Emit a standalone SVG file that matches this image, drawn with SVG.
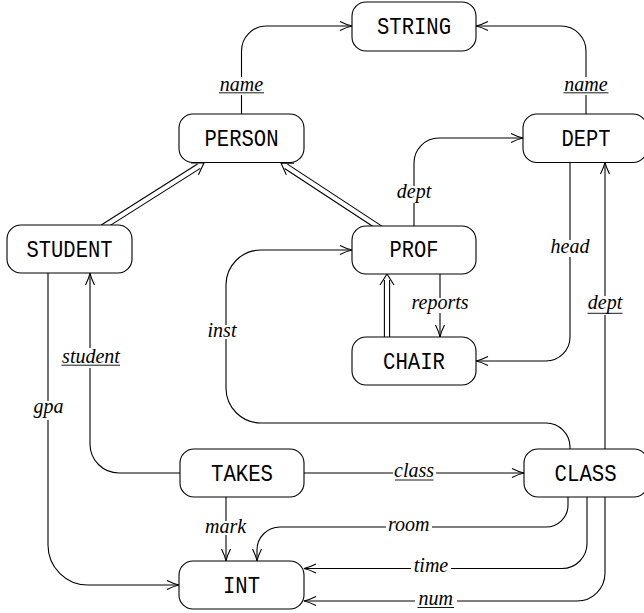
<svg xmlns="http://www.w3.org/2000/svg" width="644" height="613" viewBox="0 0 644 613">
<style>
.node rect{fill:#fff;stroke:#000;stroke-width:1.1}
.node text{font-family:"Liberation Mono",monospace;font-size:24px;text-anchor:middle;fill:#000}
.c path,.c line{fill:none;stroke:#000;stroke-width:1.1}
.lb rect{fill:#fff;stroke:none}
.lb text{font-family:"Liberation Serif",serif;font-style:italic;font-size:20px;text-anchor:middle;fill:#000}
.lb line{stroke:#000;stroke-width:0.9}
</style>
<defs>
<marker id="a" markerUnits="userSpaceOnUse" markerWidth="16" markerHeight="12" viewBox="-13 -6 16 12" refX="0" refY="0" orient="auto" overflow="visible">
<path d="M-12,-4.5 C-7,-2 -3,-0.6 0,0 C-3,0.6 -7,2 -12,4.5" fill="none" stroke="#000" stroke-width="1.1"/>
</marker>
</defs>
<g id="connectors" class="c">
<path d="M241.5,114 V51 A25,25 0 0 1 266.5,26 H352" marker-end="url(#a)"/>
<path d="M586,114 V51 A25,25 0 0 0 561,26 H476" marker-end="url(#a)"/>
<path d="M414,226 V163 A25,25 0 0 1 439,138 H523" marker-end="url(#a)"/>
<path d="M570,162 V337 A24,24 0 0 1 546,361 H476" marker-end="url(#a)"/>
<path d="M605,449 V162" marker-end="url(#a)"/>
<path d="M440,274 V337" marker-end="url(#a)"/>
<path d="M570,449 V447 A24,24 0 0 0 546,423 H261 A35,35 0 0 1 226,388 V285 A35,35 0 0 1 261,250 H352" marker-end="url(#a)"/>
<path d="M180,473 H119 A29,29 0 0 1 90,444 V273" marker-end="url(#a)"/>
<path d="M304,473 H524" marker-end="url(#a)"/>
<path d="M48,273 V545 A40,40 0 0 0 88,585 H179" marker-end="url(#a)"/>
<path d="M226,497 V561" marker-end="url(#a)"/>
<path d="M568,497 V505 A22,22 0 0 1 546,527 H280 A23,23 0 0 0 257,550 V561" marker-end="url(#a)"/>
<path d="M587,497 V543 A25,25 0 0 1 562,568.5 H304" marker-end="url(#a)"/>
<path d="M605,497 V573 A28,28 0 0 1 577,601 H304" marker-end="url(#a)"/>
<!-- ISA double arrows -->
<line x1="384.4" y1="340" x2="384.4" y2="280"/>
<line x1="389.6" y1="340" x2="389.6" y2="280"/>
<path d="M380,285 L387,274 L394,285"/>
<line x1="104.0" y1="229.4" x2="200.3" y2="168.4"/>
<line x1="101.2" y1="225.0" x2="197.5" y2="164.0"/>
<path d="M198.45,174.8 L204,163 L190.95,162.97"/>
<line x1="381.9" y1="226.1" x2="287.45" y2="164.12"/>
<line x1="379.1" y1="230.5" x2="284.59" y2="168.46"/>
<path d="M294.04,163.19 L281,163 L286.36,174.89"/>
</g>
<g id="labels" class="lb">
<rect x="217" y="77" width="49" height="18"/><text x="241.5" y="90.5">name</text><line x1="219" y1="92.8" x2="264" y2="92.8"/>
<rect x="561" y="77" width="50" height="18"/><text x="586" y="90.5">name</text><line x1="563.5" y1="92.8" x2="608.5" y2="92.8"/>
<rect x="396" y="186" width="36" height="17"/><text x="414" y="198">dept</text>
<rect x="550" y="240" width="40" height="17"/><text x="570" y="253">head</text>
<rect x="586" y="296" width="38" height="19"/><text x="605" y="308.5">dept</text><line x1="587.5" y1="313.3" x2="622.5" y2="313.3"/>
<rect x="411" y="298" width="58" height="15"/><text x="440" y="309">reports</text>
<rect x="209" y="325" width="26" height="14"/><text x="222" y="336.5">inst</text>
<rect x="60" y="348" width="62" height="20"/><text x="91" y="362.5">student</text><line x1="61.5" y1="365.2" x2="120" y2="365.2"/>
<rect x="34" y="401" width="29" height="19"/><text x="48.5" y="413">gpa</text>
<rect x="203" y="521" width="45" height="14"/><text x="225.5" y="532.5">mark</text>
<rect x="393" y="464" width="43" height="18"/><text x="414" y="477.3">class</text><line x1="395" y1="480" x2="433.5" y2="480"/>
<rect x="386" y="520" width="46" height="14"/><text x="408.7" y="531">room</text>
<rect x="411" y="560" width="40" height="15"/><text x="431" y="571.7">time</text>
<rect x="415" y="594" width="42" height="15"/><text x="435.7" y="605">num</text><line x1="417.5" y1="607.5" x2="454" y2="607.5"/>
</g>
<g id="STRING" class="node"><rect x="352" y="2" width="124" height="49" rx="14"/><text x="414" y="34" textLength="74" lengthAdjust="spacingAndGlyphs">STRING</text></g>
<g id="PERSON" class="node"><rect x="179" y="114" width="125" height="48.5" rx="14"/><text x="241.5" y="145.8" textLength="74" lengthAdjust="spacingAndGlyphs">PERSON</text></g>
<g id="DEPT" class="node"><rect x="523" y="114" width="124" height="48.5" rx="14"/><text x="586" y="145.8" textLength="49" lengthAdjust="spacingAndGlyphs">DEPT</text></g>
<g id="STUDENT" class="node"><rect x="7" y="225" width="125" height="48" rx="14"/><text x="69.5" y="257" textLength="86" lengthAdjust="spacingAndGlyphs">STUDENT</text></g>
<g id="PROF" class="node"><rect x="352" y="226" width="124" height="48" rx="14"/><text x="414" y="257.3" textLength="49" lengthAdjust="spacingAndGlyphs">PROF</text></g>
<g id="CHAIR" class="node"><rect x="352" y="337" width="124" height="48" rx="14"/><text x="414" y="368.5" textLength="62" lengthAdjust="spacingAndGlyphs">CHAIR</text></g>
<g id="TAKES" class="node"><rect x="180" y="449" width="124" height="48" rx="14"/><text x="242" y="480.6" textLength="62" lengthAdjust="spacingAndGlyphs">TAKES</text></g>
<g id="CLASS" class="node"><rect x="524" y="449" width="124" height="48" rx="14"/><text x="585.6" y="480.6" textLength="62" lengthAdjust="spacingAndGlyphs">CLASS</text></g>
<g id="INT" class="node"><rect x="179" y="561" width="125" height="48" rx="14"/><text x="241.5" y="592.6" textLength="37" lengthAdjust="spacingAndGlyphs">INT</text></g>
</svg>
